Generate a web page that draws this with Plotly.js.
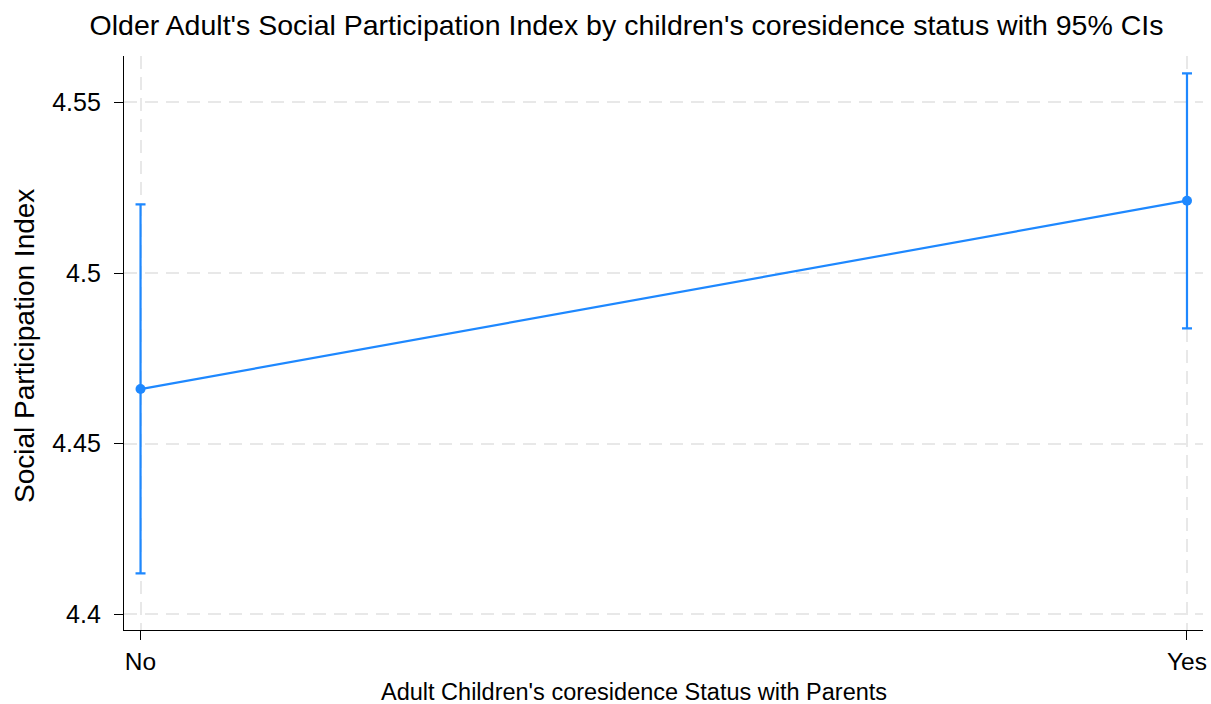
<!DOCTYPE html>
<html>
<head>
<meta charset="utf-8">
<script src="https://cdn.plot.ly/plotly-3.0.1.min.js"></script>
<style>
  html, body { margin: 0; padding: 0; background: #fff; }
  #chart { width: 1211px; height: 704px; }
</style>
</head>
<body>
<div id="chart"></div>
<script>
// Coresidence status categories and predicted index with 95% CI bounds
const categories = ["No", "Yes"];
const meanIndex = [4.466, 4.5212];
const ciLower = [4.412, 4.4838];
const ciUpper = [4.5201, 4.5585];

const yTickVals = [4.4, 4.45, 4.5, 4.55];
const yTickText = ["4.4", "4.45", "4.5", "4.55"];

const titleText = "Older Adult's Social Participation Index by children's coresidence status with 95% CIs";
const xTitleText = "Adult Children's coresidence Status with Parents";
const yTitleText = "Social Participation Index";

const blue = "#1E88FF";
const font = "Liberation Sans, Arial, sans-serif";

const trace = {
  x: categories,
  y: meanIndex,
  type: "scatter",
  mode: "lines+markers",
  line: { color: blue, width: 2.2 },
  marker: { color: blue, size: 10 },
  error_y: {
    type: "data",
    symmetric: false,
    array: meanIndex.map((m, i) => ciUpper[i] - m),
    arrayminus: meanIndex.map((m, i) => m - ciLower[i]),
    color: blue,
    thickness: 2.2,
    width: 5
  },
  hoverinfo: "x+y"
};

const gridStyle = {
  showgrid: true,
  gridcolor: "#e8e8e8",
  gridwidth: 2,
  griddash: "13px,8px"
};

const layout = {
  width: 1211,
  height: 704,
  paper_bgcolor: "#ffffff",
  plot_bgcolor: "#ffffff",
  margin: { l: 123.5, r: 8, t: 56, b: 74 },
  showlegend: false,
  font: { family: font, color: "#000" },
  title: {
    text: titleText,
    font: { family: font, size: 28.5, color: "#000" },
    xref: "container",
    x: 626.5 / 1211,
    xanchor: "center",
    yref: "container",
    y: 0.964,
    yanchor: "middle"
  },
  xaxis: Object.assign({
    type: "category",
    range: [-0.0158, 1.0153],
    showline: true,
    linecolor: "#000",
    linewidth: 1.2,
    ticks: "outside",
    ticklen: 9,
    tickcolor: "#000",
    ticklabelstandoff: 0,
    tickfont: { family: font, size: 24.5, color: "#000" },
    zeroline: false
  }, gridStyle),
  yaxis: Object.assign({
    range: [4.3954, 4.5636],
    tickvals: yTickVals,
    ticktext: yTickText,
    showline: true,
    linecolor: "#000",
    linewidth: 1.2,
    ticks: "outside",
    ticklen: 9,
    tickcolor: "#000",
    ticklabelstandoff: 8,
    tickfont: { family: font, size: 25, color: "#000" },
    zeroline: false
  }, gridStyle),
  annotations: [
    {
      text: xTitleText,
      xref: "paper", yref: "paper",
      x: (634 - 123.5) / (1203 - 123.5),
      y: -(692 - 630) / (630 - 56),
      xanchor: "center", yanchor: "middle",
      showarrow: false,
      font: { family: font, size: 23.5, color: "#000" }
    },
    {
      text: yTitleText,
      xref: "paper", yref: "paper",
      x: -(123.5 - 23.5) / (1203 - 123.5),
      y: (630 - 346) / (630 - 56),
      xanchor: "center", yanchor: "middle",
      textangle: -90,
      showarrow: false,
      font: { family: font, size: 28, color: "#000" }
    }
  ]
};

Plotly.newPlot("chart", [trace], layout, { displayModeBar: false, staticPlot: true });
</script>
</body>
</html>
